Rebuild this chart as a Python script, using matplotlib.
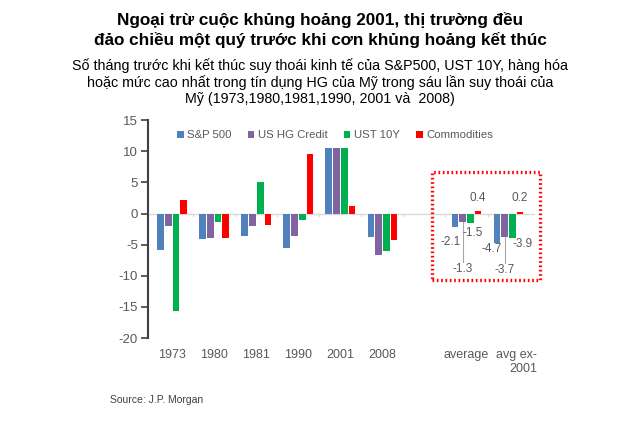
import matplotlib.pyplot as plt
import numpy as np
from matplotlib.patches import Rectangle
from matplotlib.transforms import ScaledTranslation

plt.rcParams["font.family"] = ["Liberation Sans", "DejaVu Sans"]
plt.rcParams["axes.unicode_minus"] = False

# Data
categories = ["1973", "1980", "1981", "1990", "2001", "2008", "", "average", "avg ex-\n2001"]
sp500 = [-5.9, -4.1, -3.6, -5.6, 10.5, -3.7, np.nan, -2.1, -4.7]
hg_credit = [-2.0, -4.0, -2.0, -3.6, 10.5, -6.6, np.nan, -1.3, -3.7]
ust10y = [-15.7, -1.4, 5.1, -1.0, 10.5, -6.0, np.nan, -1.5, -3.9]
commodities = [2.2, -4.0, -1.9, 9.5, 1.2, -4.3, np.nan, 0.4, 0.2]

series = [
    ("S&P 500", sp500, "#4F81BD"),
    ("US HG Credit", hg_credit, "#8064A2"),
    ("UST 10Y", ust10y, "#00B050"),
    ("Commodities", commodities, "#FF0000"),
]

fig = plt.figure(figsize=(6.4, 4.37), dpi=100)
ax = fig.add_axes([0.231, 0.2265, 0.605, 0.4985])

x = np.arange(len(categories))
width = 0.16
offsets = [-0.275, -0.092, 0.092, 0.275]
for (name, vals, color), off in zip(series, offsets):
    ax.bar(x + off, vals, width, color=color, label=name)

ax.set_xlim(-0.58, 8.63)
ax.set_ylim(-20, 15)
ax.set_yticks(range(-20, 16, 5))
ax.axhline(0, color="#d9d9d9", lw=1, zorder=0)
for t in np.arange(0.5, 8.5, 1):
    ax.plot([t, t], [0, -0.4], color="#d9d9d9", lw=0.8, zorder=0)

for s in ["top", "right", "bottom"]:
    ax.spines[s].set_visible(False)
ax.spines["left"].set_color("#404040")
ax.spines["left"].set_linewidth(1.5)
ax.tick_params(axis="y", colors="#404040", labelcolor="#595959", labelsize=9.5,
               length=5, width=1.2, pad=2)
ax.tick_params(axis="x", length=0, labelcolor="#595959", labelsize=9, pad=8)
ax.set_xticks(x)
ax.set_xticklabels(categories)
last = ax.get_xticklabels()[-1]
last.set_multialignment("right")
last.set_transform(last.get_transform() + ScaledTranslation(6 / 72, 0, fig.dpi_scale_trans))

leg = ax.legend(loc="upper center", ncol=4, frameon=False, fontsize=8.2,
                handlelength=0.6, handleheight=0.6, handletextpad=0.3,
                columnspacing=1.4, bbox_to_anchor=(0.483, 1.0))
for t in leg.get_texts():
    t.set_color("#595959")

# Value labels in the highlighted box (offsets in pixels from the bar tips)
lab_kw = dict(fontsize=8.5, color="#595959", textcoords="offset pixels",
              ha="center", va="center")
label_shift = {
    7: [(-4, -15), (0, -47), (2, -10), (0, 13)],
    8: [(-5, -6), (0, -33), (10, -6), (0, 14)],
}
for i, shifts in label_shift.items():
    for (name, vals, color), off, (dx, dy) in zip(series, offsets, shifts):
        ax.annotate(f"{vals[i]:.1f}", (x[i] + off, vals[i]), xytext=(dx, dy), **lab_kw)
    lead_end = hg_credit[i] - (shifts[1][1] * -1 - 7) / 6.23
    ax.plot([x[i] + offsets[1]] * 2, [hg_credit[i], lead_end], color="#a6a6a6", lw=0.8)

box = Rectangle((6.18, -10.75), 2.57, 17.35, fill=False, ec="#FF0000", lw=2.4,
                ls=(0, (0.5, 0.8)), clip_on=False)
ax.add_patch(box)

fig.text(0.5, 0.972, "Ngoại trừ cuộc khủng hoảng 2001, thị trường đều\nđảo chiều một quý trước khi cơn khủng hoảng kết thúc",
         ha="center", va="top", fontsize=12.3, fontweight="bold", linespacing=1.32)
fig.text(0.5, 0.868, "Số tháng trước khi kết thúc suy thoái kinh tế của S&P500, UST 10Y, hàng hóa\n"
         "hoặc mức cao nhất trong tín dụng HG của Mỹ trong sáu lần suy thoái của\n"
         "Mỹ (1973,1980,1981,1990, 2001 và  2008)",
         ha="center", va="top", fontsize=10.3, linespacing=1.2)
fig.text(0.172, 0.078, "Source: J.P. Morgan", fontsize=7.5, color="#404040")

fig.savefig("out.png", dpi=100)
